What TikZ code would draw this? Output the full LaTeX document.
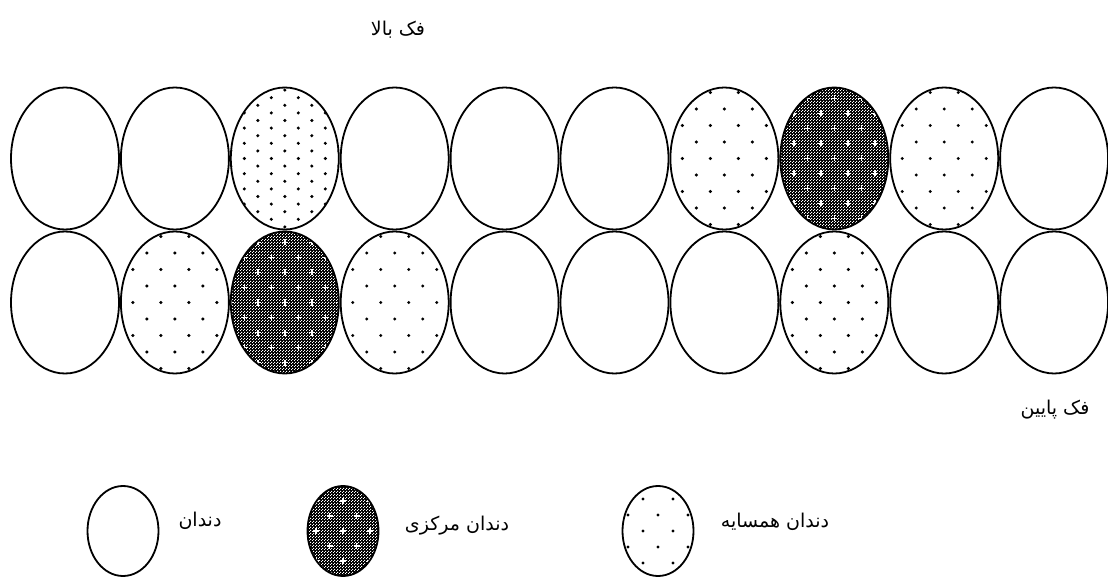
\documentclass[tikz,border=0pt]{standalone}
\usepackage{fontspec}
\newfontfamily\arabicfont[Script=Arabic]{DejaVu Sans}
\TeXXeTstate=1
\usetikzlibrary{shapes.geometric, patterns.meta}

% fine checker used for the central tooth
\tikzdeclarepattern{
  name=toothcheck,
  type=uncolored,
  bottom left={(0pt,0pt)},
  top right={(3pt,3pt)},
  tile size={(3pt,3pt)},
  code={
    \pgfpathrectangle{\pgfpointorigin}{\pgfpoint{1.3pt}{1.3pt}}
    \pgfpathrectangle{\pgfpoint{1.5pt}{1.5pt}}{\pgfpoint{1.3pt}{1.3pt}}
    \pgfusepath{fill}
  }
}

% staggered dots: #1 = column step, #2 = row step
\newcommand{\toothdots}[2]{%
  \foreach \r in {0,...,22}{
    \pgfmathsetmacro{\sh}{mod(\r,2)*#1/2}
    \pgfmathsetmacro{\yy}{(\r-11)*#2}
    \foreach \c in {-5,...,5}{
      \pgfmathsetmacro{\xx}{\c*#1+\sh}
      \fill ([shift={(\xx,\yy)}]path picture bounding box.center) circle (1.7pt);
    }
  }}

% white crosses on the checker
\newcommand{\toothcrosses}[2]{%
  \fill[black] (path picture bounding box.south west) rectangle (path picture bounding box.north east);
  \fill[pattern=toothcheck, pattern color=white] (path picture bounding box.south west) rectangle (path picture bounding box.north east);
  \foreach \r in {0,...,12}{
    \pgfmathsetmacro{\sh}{mod(\r,2)*#1/2}
    \pgfmathsetmacro{\yy}{(\r-6)*#2}
    \foreach \c in {-4,...,4}{
      \pgfmathsetmacro{\xx}{\c*#1+\sh}
      \draw[white, line width=1.4pt] ([shift={(\xx-3,\yy)}]path picture bounding box.center) -- ++(6,0)
        ([shift={(\xx,\yy-3)}]path picture bounding box.center) -- ++(0,6);
    }
  }}

\begin{document}
\begin{tikzpicture}[
    x=1pt, y=-1pt,
    tooth/.style = {ellipse, draw, line width=1.8pt, minimum width=108pt, minimum height=142pt, inner sep=0pt},
    neighbour/.style = {tooth, path picture={\toothdots{28}{16.5}}},
    neighbourtight/.style = {tooth, path picture={\toothdots{27}{7.6}}},
    central/.style = {tooth, path picture={\toothcrosses{27}{15}}},
    keytooth/.style = {minimum width=71pt, minimum height=90pt},
    label/.style = {font=\arabicfont\fontsize{19}{22}\selectfont, inner sep=0pt}
]
\useasboundingbox (0,0) rectangle (1108,577);

% upper jaw
\foreach \kind [count=\i] in {tooth, tooth, neighbourtight, tooth, tooth, tooth, neighbour, central, neighbour, tooth}
  \node (t\i) [\kind] at ({65+109.9*(\i-1)}, 158.5) {};

% lower jaw
\foreach \kind [count=\i] in {tooth, neighbour, central, neighbour, tooth, tooth, tooth, neighbour, tooth, tooth}
  \node (b\i) [\kind] at ({65+109.9*(\i-1)}, 302.5) {};

\node (upperjaw) [label] at (398, 30) {\beginR فک بالا\endR};
\node (lowerjaw) [label] at (1055, 410) {\beginR فک پایین\endR};

% legend
\node (keyplain) [tooth, keytooth] at (123, 531) {};
\node (keycentral) [central, keytooth] at (343, 531) {};
\node (keyneighbour) [tooth, keytooth, path picture={\toothdots{30}{16}}] at (658, 531) {};

\node (keyplaintext) [label] at (200, 521) {\beginR دندان\endR};
\node (keycentraltext) [label] at (457, 526) {\beginR دندان مرکزی\endR};
\node (keyneighbourtext) [label] at (775, 522) {\beginR دندان همسایه\endR};

\end{tikzpicture}
\end{document}
